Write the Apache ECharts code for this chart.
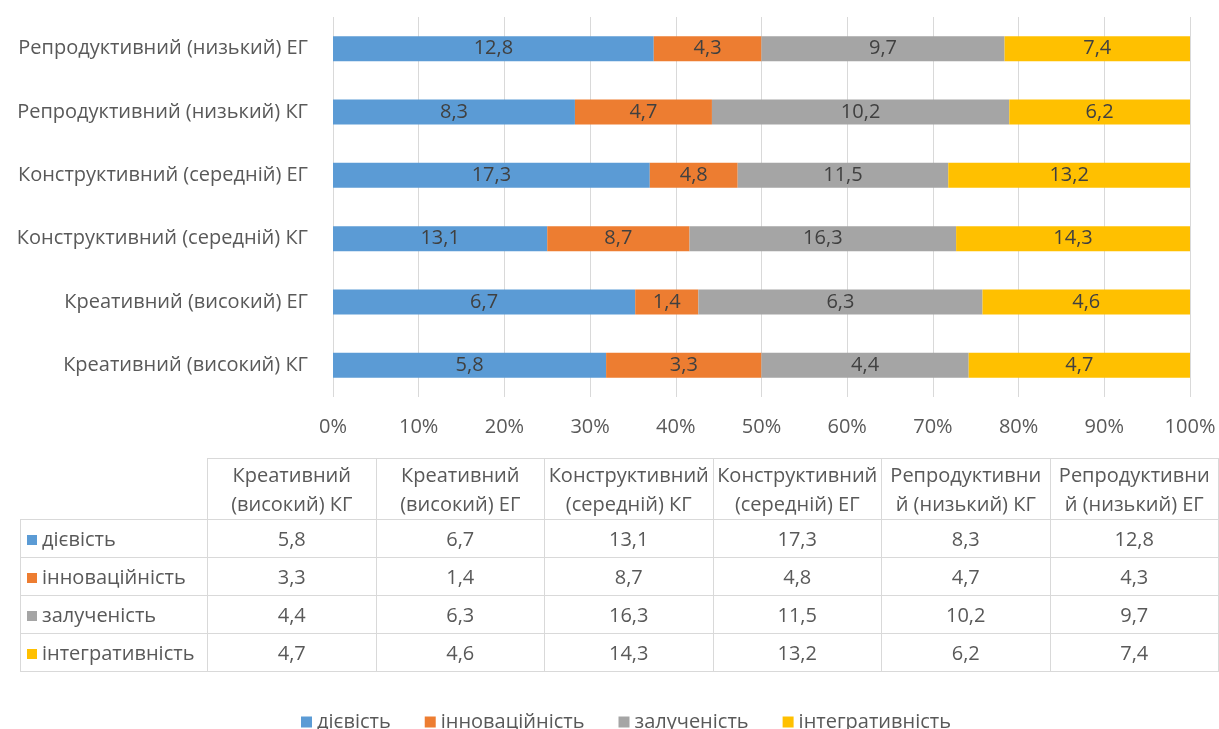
<!DOCTYPE html>
<html><head><meta charset="utf-8">
<script src="https://cdn.jsdelivr.net/npm/echarts@6/dist/echarts.min.js"></script>
<style>
html,body{margin:0;padding:0;background:#fff;}
#chart{position:absolute;left:0;top:0;width:1219px;height:729px;}
#tbl{position:absolute;left:20px;top:458px;border-collapse:collapse;font-family:"Open Sans",sans-serif;font-size:20px;color:#595959;table-layout:fixed;}
#tbl td,#tbl th{border:1px solid #D9D9D9;font-weight:normal;text-align:center;padding:0;overflow:hidden;white-space:nowrap;}
#tbl th{height:60px;line-height:29px;}
#tbl td{height:37px;}
#tbl td.name{text-align:left;padding-left:6px;}
#tbl th.blank{border-top:none;border-left:none;}
.sw{display:inline-block;width:10px;height:10px;margin-right:5px;vertical-align:1px;}
</style></head>
<body>
<div id="chart"></div>
<table id="tbl"></table>
<script>
const categories = ["Креативний (високий) КГ","Креативний (високий) ЕГ","Конструктивний (середній) КГ","Конструктивний (середній) ЕГ","Репродуктивний (низький) КГ","Репродуктивний (низький) ЕГ"];
const tableHeaderLines = [["Креативний","(високий) КГ"],["Креативний","(високий) ЕГ"],["Конструктивний","(середній) КГ"],["Конструктивний","(середній) ЕГ"],["Репродуктивни","й (низький) КГ"],["Репродуктивни","й (низький) ЕГ"]];
const seriesNames = ["дієвість","інноваційність","залученість","інтегративність"];
const dievist = [5.8, 6.7, 13.1, 17.3, 8.3, 12.8];
const innovatsiinist = [3.3, 1.4, 8.7, 4.8, 4.7, 4.3];
const zaluchenist = [4.4, 6.3, 16.3, 11.5, 10.2, 9.7];
const intehratyvnist = [4.7, 4.6, 14.3, 13.2, 6.2, 7.4];
const colors = ["#5B9BD5","#ED7D31","#A5A5A5","#FFC000"];

const raw = [dievist, innovatsiinist, zaluchenist, intehratyvnist];
const totals = categories.map((c,i)=>raw.reduce((s,a)=>s+a[i],0));
const fmt = v => String(v).replace('.', ',');
const FONT = '"Open Sans", sans-serif';
const FS = 20;

const chart = echarts.init(document.getElementById('chart'), null, {renderer:'canvas'});
chart.setOption({
  animation:false,
  color: colors,
  grid:{left:333, right:29, top:17, height:380, containLabel:false},
  xAxis:{type:'value', min:0, max:100, interval:10,
    axisLabel:{formatter:'{value}%', color:'#595959', fontSize:FS, fontFamily:FONT, margin:20},
    splitLine:{lineStyle:{color:'#D9D9D9'}}, axisLine:{show:false}, axisTick:{show:false}},
  yAxis:{type:'category', data:categories,
    axisLabel:{color:'#595959', fontSize:FS, fontFamily:FONT, margin:25},
    axisLine:{show:false}, axisTick:{show:false}},
  legend:{bottom:-8, left:296, itemWidth:11, itemHeight:11, itemGap:34, icon:'rect',
    textStyle:{color:'#595959', fontSize:FS, fontFamily:FONT}},
  series: raw.map((arr,k)=>({
    name: seriesNames[k], type:'bar', stack:'total', barWidth:25,
    data: arr.map((v,i)=>({value: v/totals[i]*100, raw:v})),
    label:{show:true, position:'inside', color:'#404040', fontSize:FS, fontFamily:FONT,
      formatter: p => fmt(p.data.raw)}
  }))
});

// data table
const tbl = document.getElementById('tbl');
let html = '<colgroup><col style="width:187px">' + tableHeaderLines.map(()=> '<col style="width:168.5px">').join('') + '</colgroup>';
html += '<tr><th class="blank"></th>' + tableHeaderLines.map(h=>'<th>'+h.join('<br>')+'</th>').join('') + '</tr>';
raw.forEach((arr,k)=>{
  html += '<tr><td class="name"><span class="sw" style="background:'+colors[k]+'"></span>'+seriesNames[k]+'</td>' + arr.map(v=>'<td>'+fmt(v)+'</td>').join('') + '</tr>';
});
tbl.innerHTML = html;
</script>
</body></html>
